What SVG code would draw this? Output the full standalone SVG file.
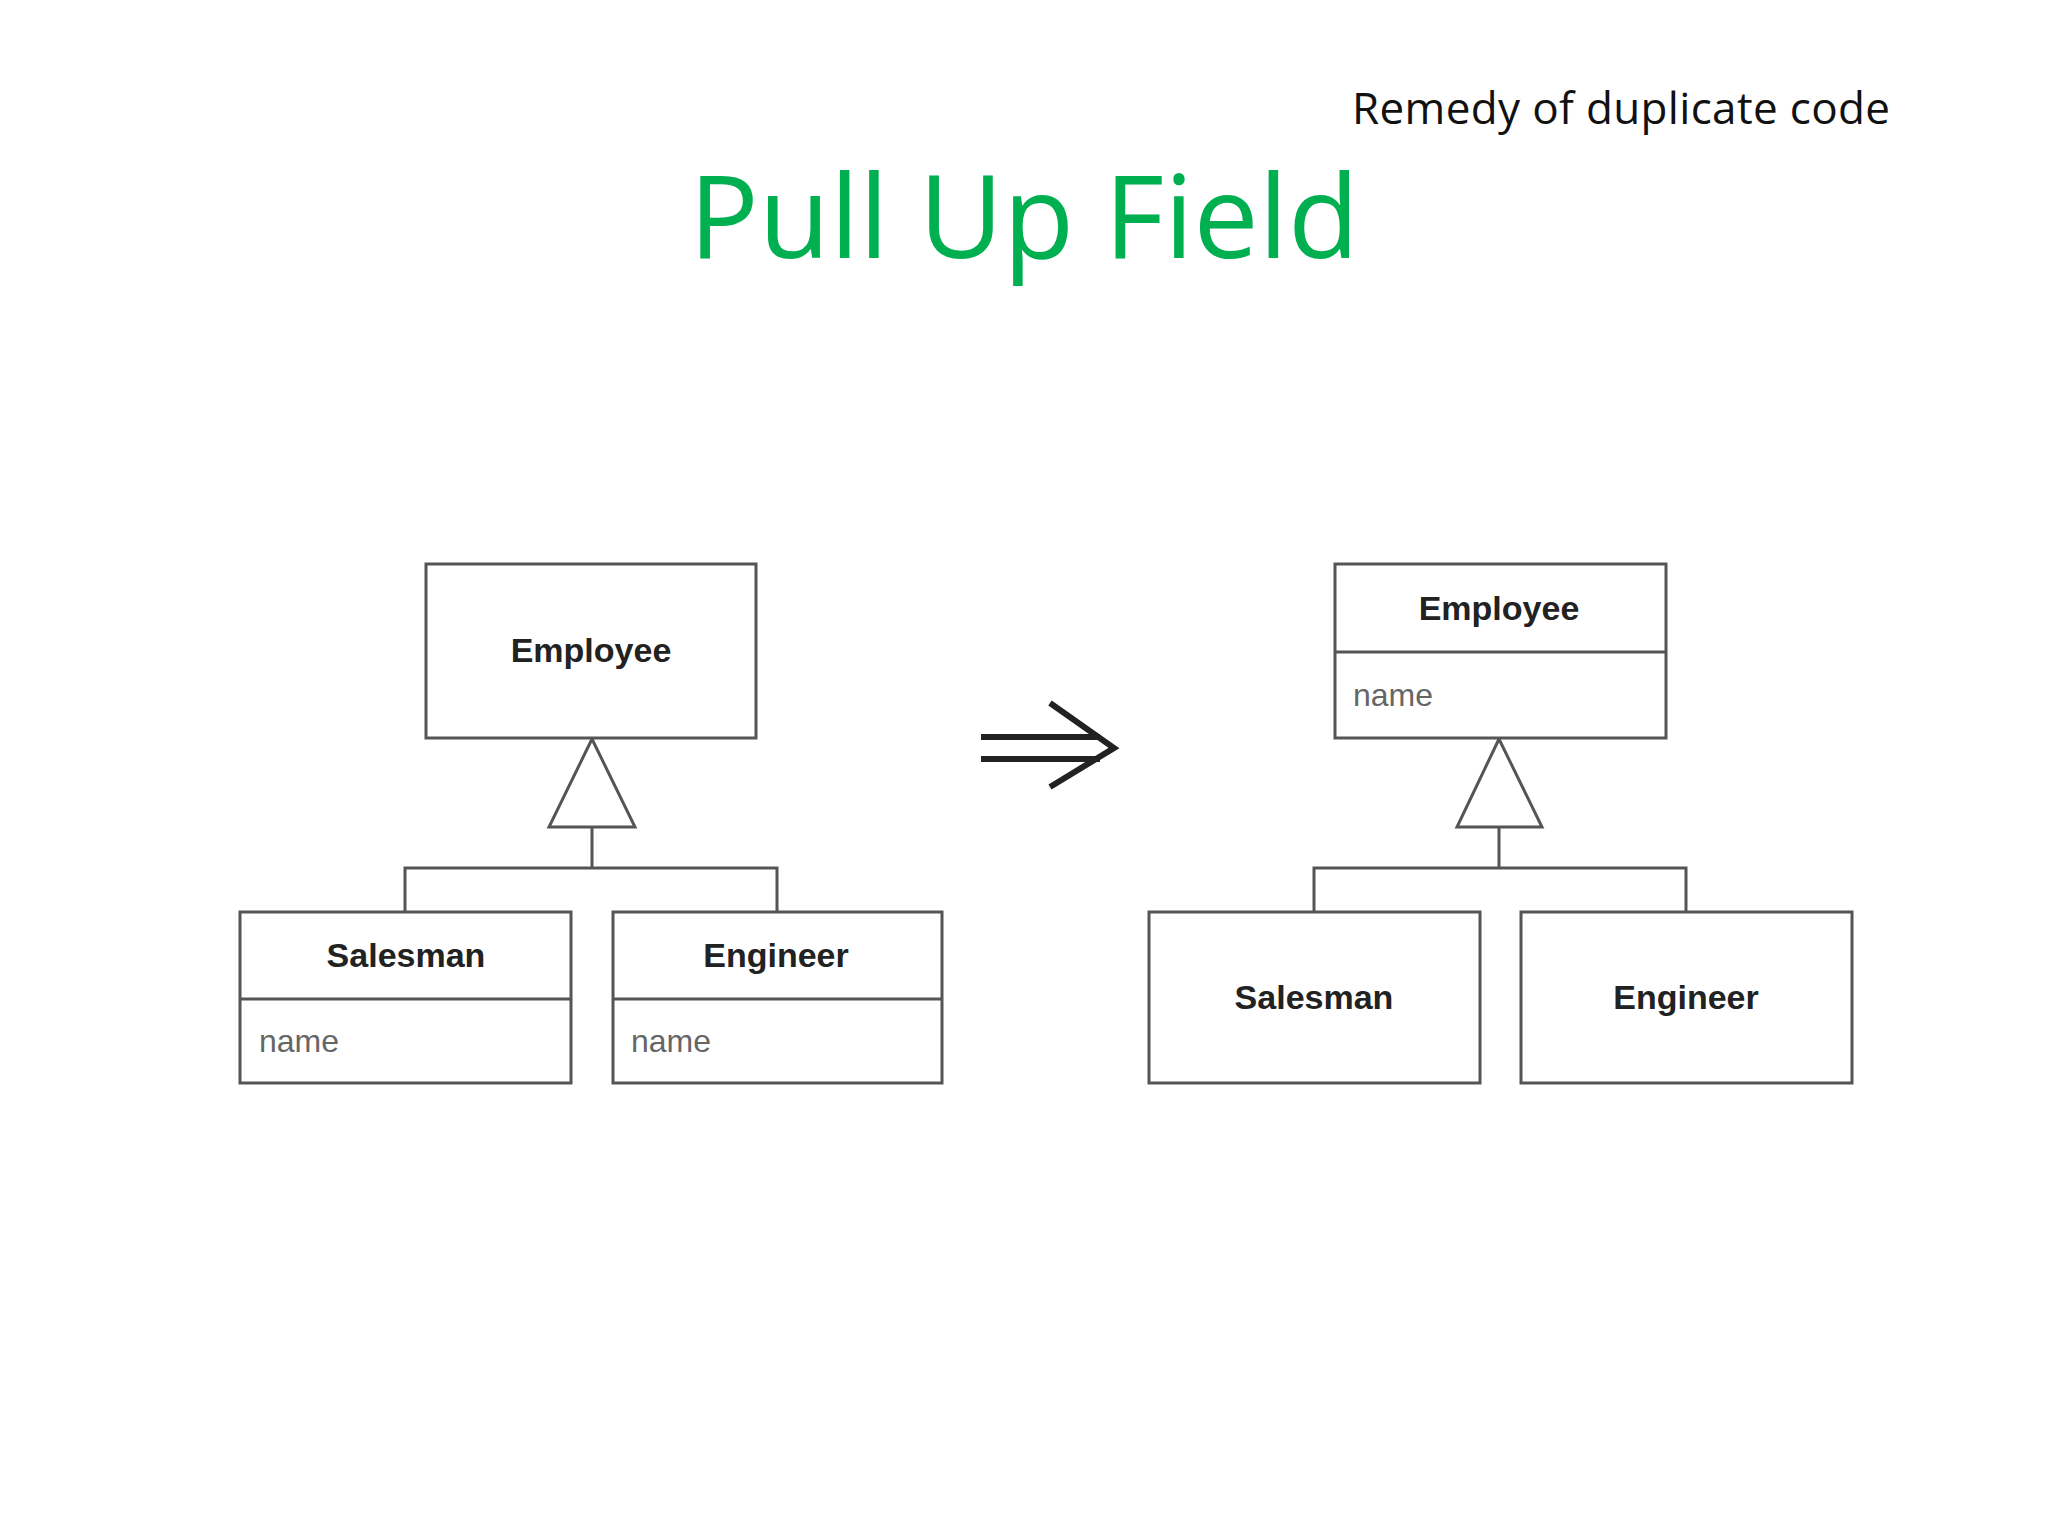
<svg xmlns="http://www.w3.org/2000/svg" width="2048" height="1536" viewBox="0 0 2048 1536">
<style>
.box{fill:#fff;stroke:#555;stroke-width:3}
.ln{fill:none;stroke:#555;stroke-width:3}
.cn{font-family:"Liberation Sans Narrow","Liberation Sans",sans-serif;font-weight:bold;font-size:34px;fill:#222;text-anchor:middle}
.at{font-family:"Liberation Sans Narrow","Liberation Sans",sans-serif;font-size:32px;fill:#666}
</style>
<rect width="2048" height="1536" fill="#fff"/>
<text x="1890" y="124" text-anchor="end" font-family="Open Sans,sans-serif" font-size="44" fill="#111" textLength="538">Remedy of duplicate code</text>
<text x="1024" y="258" text-anchor="middle" font-family="Open Sans,sans-serif" font-size="116" fill="#00b050">Pull Up Field</text>
<g id="connectors">
<path class="ln" d="M592 827V868M405 912V868H777V912"/>
<polygon class="box" points="592,739 549,827 635,827"/>
<path class="ln" d="M1499 827V868M1314 912V868H1686V912"/>
<polygon class="box" points="1499,739 1457,827 1542,827"/>
<path d="M981 737H1100M981 759H1100M1050 703L1114 748L1050 787" fill="none" stroke="#222" stroke-width="6"/>
</g>
<g id="employee-left"><rect class="box" x="426" y="564" width="330" height="174"/><text class="cn" x="591" y="662">Employee</text></g>
<g id="salesman-left"><rect class="box" x="240" y="912" width="331" height="171"/><line class="ln" x1="240" y1="999" x2="571" y2="999"/><text class="cn" x="406" y="967">Salesman</text><text class="at" x="259" y="1052">name</text></g>
<g id="engineer-left"><rect class="box" x="613" y="912" width="329" height="171"/><line class="ln" x1="613" y1="999" x2="942" y2="999"/><text class="cn" x="776" y="967">Engineer</text><text class="at" x="631" y="1052">name</text></g>
<g id="employee-right"><rect class="box" x="1335" y="564" width="331" height="174"/><line class="ln" x1="1335" y1="652" x2="1666" y2="652"/><text class="cn" x="1499" y="620">Employee</text><text class="at" x="1353" y="706">name</text></g>
<g id="salesman-right"><rect class="box" x="1149" y="912" width="331" height="171"/><text class="cn" x="1314" y="1009">Salesman</text></g>
<g id="engineer-right"><rect class="box" x="1521" y="912" width="331" height="171"/><text class="cn" x="1686" y="1009">Engineer</text></g>
</svg>
